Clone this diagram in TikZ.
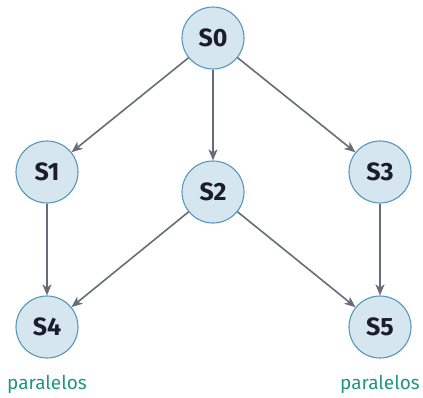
\documentclass[tikz,border=0pt]{standalone}
\usepackage{fontspec}
\setmainfont{Fira Sans}
\usetikzlibrary{arrows.meta}
\definecolor{nodefill}{RGB}{214,230,238}
\definecolor{nodeline}{RGB}{84,152,190}
\definecolor{edgecol}{RGB}{104,108,120}
\definecolor{labelcol}{RGB}{32,150,130}
\definecolor{textcol}{RGB}{28,28,48}
\begin{document}
\begin{tikzpicture}[x=1pt,y=-1pt,
  state/.style={circle,draw=nodeline,fill=nodefill,line width=1.1pt,minimum size=62pt,inner sep=0pt,
    font=\fontsize{25}{28}\selectfont\bfseries,text=textcol},
  edge/.style={draw=edgecol,line width=1.6pt,-{Stealth[length=11pt,width=9pt,inset=3pt]}},
  tag/.style={font=\fontsize{19}{22}\selectfont,text=labelcol}]
  \useasboundingbox (0,0) rectangle (423,397);
  \node[state] (s0) at (213,38) {S0};
  \node[state] (s1) at (47,172) {S1};
  \node[state] (s2) at (213,192) {S2};
  \node[state] (s3) at (380,172) {S3};
  \node[state] (s4) at (47,327) {S4};
  \node[state] (s5) at (380,327) {S5};
  \draw[edge] (s0) -- (s1);
  \draw[edge] (s0) -- (s2);
  \draw[edge] (s0) -- (s3);
  \draw[edge] (s1) -- (s4);
  \draw[edge] (s2) -- (s4);
  \draw[edge] (s2) -- (s5);
  \draw[edge] (s3) -- (s5);
  \node[tag] (p1) at (47,384) {paralelos};
  \node[tag] (p2) at (380,384) {paralelos};
\end{tikzpicture}
\end{document}
